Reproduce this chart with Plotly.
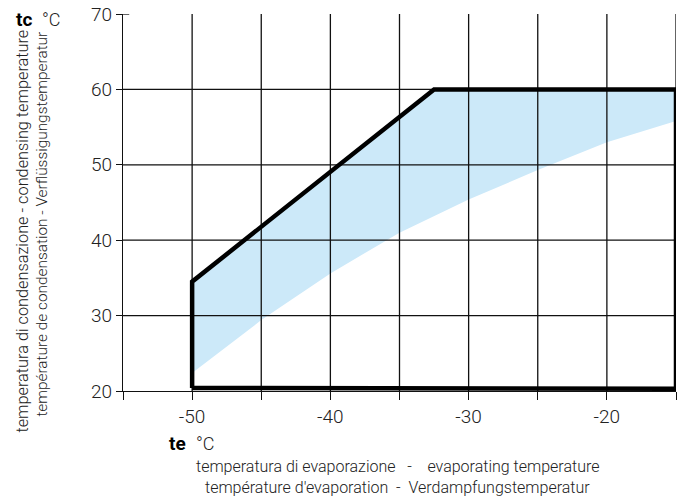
import plotly.graph_objects as go

# ---- data ----
# envelope (operating limits), te = evaporating temp, tc = condensing temp
env_te = [-50, -50, -32.5, -15, -15, -50]
env_tc = [20.4, 34.5, 60, 60, 20.3, 20.4]

# shaded region: upper boundary (follows envelope) and lower curve
upper_te = [-50, -32.5, -15]
upper_tc = [34.5, 60, 60]
lower_te = [-50, -45, -40, -35, -30, -25, -20, -15]
lower_tc = [22.4, 29.4, 35.6, 41.0, 45.4, 49.3, 53.0, 55.8]

x_ticks = [-55, -50, -45, -40, -35, -30, -25, -20, -15]
x_ticklabels = ["", "-50", "", "-40", "", "-30", "", "-20", ""]
y_ticks = [20, 30, 40, 50, 60, 70]
y_ticklabels = ["20", "30", "40", "50", "60", "70"]
x_grid = [-50, -45, -40, -35, -30, -25, -20, -15]
y_grid = [30, 40, 50, 60]

# ---- layout geometry (page pixels; body margin removed by post_script) ----
W, H = 685, 500
L, R, T, B = 123.3, 675.7, 14, 391
PW, PH = R - L, B - T

def px(p):
    return (p - L) / PW

def py(p):
    return (B - p) / PH

FONT = "Roboto, Liberation Sans, Arial, sans-serif"
TXT = "#222222"

fig = go.Figure()

# shaded band
band_x = upper_te + lower_te[::-1] + [upper_te[0]]
band_y = upper_tc + lower_tc[::-1] + [upper_tc[0]]
fig.add_trace(go.Scatter(x=band_x, y=band_y, mode="lines", fill="toself",
                         fillcolor="#cce9f9", line=dict(width=0),
                         hoverinfo="skip", showlegend=False))

# gridlines drawn above fill
for xv in x_grid:
    fig.add_trace(go.Scatter(x=[xv, xv], y=[y_ticks[0], y_ticks[-1]], mode="lines",
                             line=dict(color="#111111", width=1.3),
                             hoverinfo="skip", showlegend=False))
for yv in y_grid:
    fig.add_trace(go.Scatter(x=[x_ticks[0], x_ticks[-1]], y=[yv, yv], mode="lines",
                             line=dict(color="#111111", width=1.3),
                             hoverinfo="skip", showlegend=False))
# small inner tick at the top label
fig.add_trace(go.Scatter(x=[x_ticks[0], x_ticks[0] + 0.45], y=[y_ticks[-1], y_ticks[-1]],
                         mode="lines", line=dict(color="#111111", width=1.3),
                         hoverinfo="skip", showlegend=False))

# envelope
fig.add_trace(go.Scatter(x=env_te, y=env_tc, mode="lines",
                         line=dict(color="black", width=4.5),
                         hoverinfo="skip", showlegend=False))

tickfont = dict(family=FONT, size=19, color=TXT, weight=300)
fig.update_xaxes(range=[x_ticks[0], x_ticks[-1]], tickvals=x_ticks, ticktext=x_ticklabels,
                 showgrid=False, zeroline=False, showline=True, linecolor="#111111",
                 linewidth=1.3, ticks="outside", ticklen=8, tickwidth=1.3,
                 tickcolor="#111111", tickfont=tickfont, ticklabeloverflow="allow")
fig.update_yaxes(range=[y_ticks[0], y_ticks[-1]], tickvals=y_ticks, ticktext=y_ticklabels,
                 showgrid=False, zeroline=False, showline=True, linecolor="#111111",
                 linewidth=1.3, ticks="outside", ticklen=6, tickwidth=1.3,
                 tickcolor="#111111", tickfont=tickfont, ticklabeloverflow="allow")

ann = []
bold = dict(size=19, family=FONT, color="black", weight=700)
light = dict(size=18, family=FONT, color=TXT, weight=300)
title = dict(size=16, family=FONT, color=TXT, weight=300)
ann.append(dict(text="tc", x=px(24), y=py(19), font=bold))
ann.append(dict(text="°C", x=px(52), y=py(19), font=light))
ann.append(dict(text="te", x=px(178), y=py(443), font=bold))
ann.append(dict(text="°C", x=px(206), y=py(443), font=light))
ann.append(dict(text="temperatura di evaporazione &nbsp; - &nbsp;&nbsp; evaporating temperature",
                x=px(397.5), y=py(466), font=title))
ann.append(dict(text="température d'evaporation &nbsp;- &nbsp;Verdampfungstemperatur",
                x=px(397.5), y=py(487), font=title))
ann.append(dict(text="temperatura di condensazione - condensing temperature",
                x=px(22), y=py(231), textangle=-90, font=dict(title, size=16.3)))
ann.append(dict(text="température de condensation - Verflüssigungstemperatur",
                x=px(42), y=py(224), textangle=-90, font=dict(title, size=15.4)))
for a in ann:
    a.update(xref="paper", yref="paper", showarrow=False, xanchor="center", yanchor="middle")

fig.update_layout(width=W, height=H, annotations=ann,
                  margin=dict(l=L, r=W - R, t=T, b=H - B, autoexpand=False),
                  plot_bgcolor="white", paper_bgcolor="white", showlegend=False)

fig.write_html("out.html", config={"displayModeBar": False},
               post_script="document.body.style.margin='0';document.body.style.overflow='hidden';")
